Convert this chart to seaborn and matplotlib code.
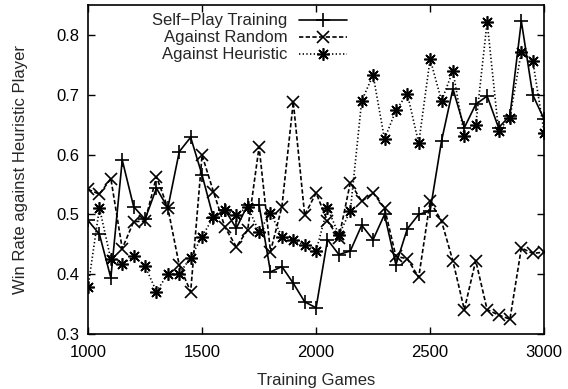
import numpy as np
import pandas as pd
import matplotlib
matplotlib.use("Agg")
import matplotlib.pyplot as plt
import seaborn as sns

games = list(range(1000, 3001, 50))

self_play = [0.490, 0.467, 0.394, 0.591, 0.513, 0.492, 0.544, 0.511, 0.605, 0.629,
             0.566, 0.494, 0.508, 0.477, 0.516, 0.516, 0.404, 0.413, 0.385, 0.354,
             0.344, 0.458, 0.433, 0.439, 0.482, 0.458, 0.500, 0.416, 0.476, 0.500,
             0.506, 0.623, 0.710, 0.645, 0.684, 0.698, 0.645, 0.665, 0.823, 0.700,
             0.659]
against_random = [0.542, 0.534, 0.560, 0.443, 0.488, 0.489, 0.563, 0.511, 0.415, 0.371,
                  0.599, 0.538, 0.479, 0.446, 0.474, 0.613, 0.438, 0.513, 0.688, 0.499,
                  0.536, 0.489, 0.461, 0.553, 0.522, 0.536, 0.511, 0.430, 0.426, 0.395,
                  0.522, 0.489, 0.422, 0.341, 0.423, 0.341, 0.332, 0.325, 0.444, 0.435,
                  0.437]
against_heuristic = [0.379, 0.511, 0.425, 0.417, 0.430, 0.414, 0.371, 0.401, 0.401, 0.428,
                     0.463, 0.496, 0.507, 0.499, 0.513, 0.471, 0.503, 0.463, 0.457, 0.449,
                     0.439, 0.511, 0.466, 0.506, 0.690, 0.733, 0.626, 0.674, 0.702, 0.619,
                     0.760, 0.690, 0.740, 0.631, 0.649, 0.822, 0.640, 0.662, 0.772, 0.757,
                     0.637]

series_names = ["Self\u2212Play Training", "Against Random", "Against Heuristic"]
x_ticks = [1000, 1500, 2000, 2500, 3000]
y_ticks = [0.3, 0.4, 0.5, 0.6, 0.7, 0.8]

sns.set_style("ticks")
plt.rcParams["font.family"] = ["Liberation Sans", "DejaVu Sans"]
plt.rcParams["xtick.direction"] = "in"
plt.rcParams["ytick.direction"] = "in"

fig = plt.figure(figsize=(5.68, 3.89), dpi=100)
ax = fig.add_axes([0.155, 0.141, 0.803, 0.846])

asterisk = (8, 2, 0)
styles = [
    (self_play, "+", "-", 9.5),
    (against_random, "x", (0, (2.6, 1.4)), 8),
    (against_heuristic, asterisk, (0, (0.8, 1.4)), 9),
]
for name, (vals, mk, ls, ms) in zip(series_names, styles):
    sns.lineplot(x=games, y=vals, ax=ax, color="black", linewidth=1.2,
                 linestyle=ls, marker=mk, markersize=ms, markeredgewidth=1.2,
                 markeredgecolor="black", markerfacecolor="black", label=name)

ax.set_xlim(1000, 3000)
ax.set_ylim(0.3, 0.85)
ax.set_xticks(x_ticks)
ax.set_yticks(y_ticks)
ax.set_yticklabels([f"{v:.1f}" for v in y_ticks])
ax.tick_params(axis="both", which="both", top=True, right=True, length=5,
               width=1, labelsize=12, pad=6, colors="black")
ax.tick_params(axis="x", pad=8)
for s in ax.spines.values():
    s.set_linewidth(1.2)
    s.set_color("black")

ax.set_xlabel("Training Games", fontsize=12, labelpad=9)
ax.set_ylabel("Win Rate against Heuristic Player", fontsize=12, labelpad=21)

handles, labels = ax.get_legend_handles_labels()
leg = ax.legend(handles, labels, loc="upper right", bbox_to_anchor=(0.59, 1.005),
                frameon=False, markerfirst=False, fontsize=12, handlelength=2.9,
                handletextpad=0.7, labelspacing=0.12, borderaxespad=0.2)
leg._legend_box.align = "right"

fig.savefig("out.png", dpi=100)
